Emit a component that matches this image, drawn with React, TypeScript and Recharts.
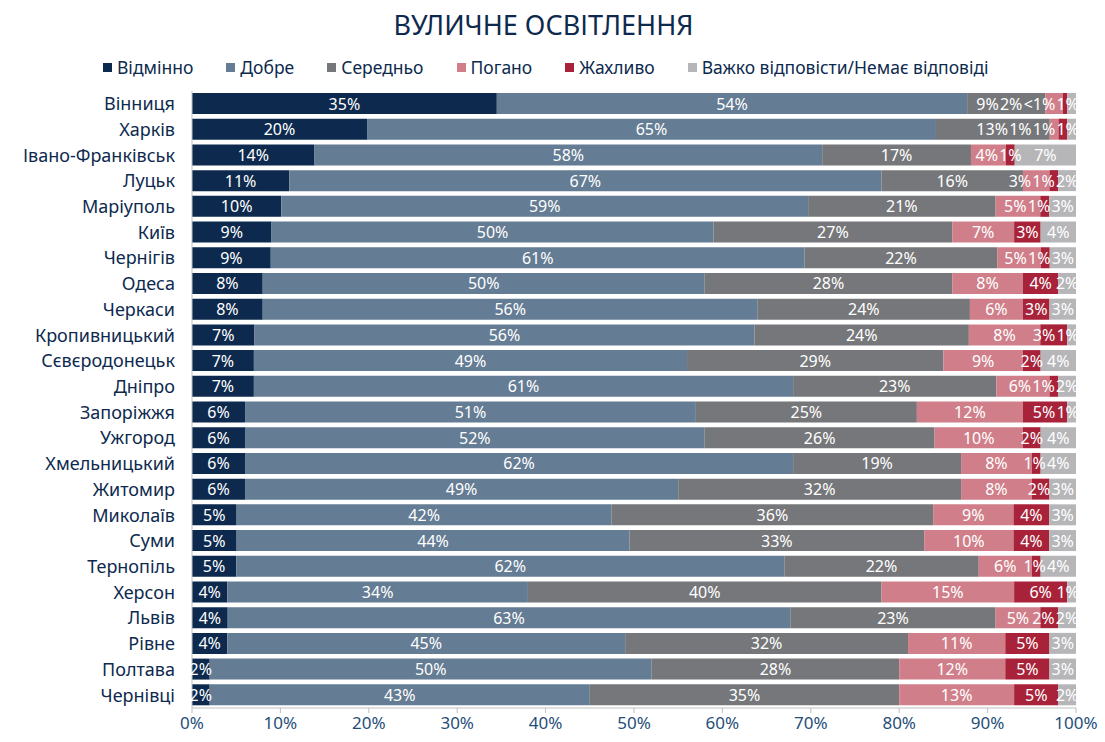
import React from 'react'
import { BarChart, Bar, XAxis, YAxis, LabelList } from 'recharts'

const cities = [
  'Вінниця', 'Харків', 'Івано-Франківськ', 'Луцьк', 'Маріуполь', 'Київ', 'Чернігів', 'Одеса',
  'Черкаси', 'Кропивницький', 'Сєвєродонецьк', 'Дніпро', 'Запоріжжя', 'Ужгород', 'Хмельницький',
  'Житомир', 'Миколаїв', 'Суми', 'Тернопіль', 'Херсон', 'Львів', 'Рівне', 'Полтава', 'Чернівці',
]

// 0.5 stands for "<1%"
const excellent = [35, 20, 14, 11, 10, 9, 9, 8, 8, 7, 7, 7, 6, 6, 6, 6, 5, 5, 5, 4, 4, 4, 2, 2]
const good = [54, 65, 58, 67, 59, 50, 61, 50, 56, 56, 49, 61, 51, 52, 62, 49, 42, 44, 62, 34, 63, 45, 50, 43]
const average = [9, 13, 17, 16, 21, 27, 22, 28, 24, 24, 29, 23, 25, 26, 19, 32, 36, 33, 22, 40, 23, 32, 28, 35]
const poor = [2, 1, 4, 3, 5, 7, 5, 8, 6, 8, 9, 6, 12, 10, 8, 8, 9, 10, 6, 15, 5, 11, 12, 13]
const terrible = [0.5, 1, 1, 1, 1, 3, 1, 4, 3, 3, 2, 1, 5, 2, 1, 2, 4, 4, 1, 6, 2, 5, 5, 5]
const hard = [1, 1, 7, 2, 3, 4, 3, 2, 3, 1, 4, 2, 1, 4, 4, 3, 3, 3, 4, 1, 2, 3, 3, 2]

const xTicks = [0, 0.1, 0.2, 0.3, 0.4, 0.5, 0.6, 0.7, 0.8, 0.9, 1]

const series = [
  { key: 'excellent', name: 'Відмінно', color: '#0d2a4e', values: excellent },
  { key: 'good', name: 'Добре', color: '#647c94', values: good },
  { key: 'average', name: 'Середньо', color: '#76777a', values: average },
  { key: 'poor', name: 'Погано', color: '#d07f8a', values: poor },
  { key: 'terrible', name: 'Жахливо', color: '#a8233a', values: terrible },
  { key: 'hard', name: 'Важко відповісти/Немає відповіді', color: '#b6b6b9', values: hard },
]

const data = cities.map((city, i) => {
  const row: Record<string, string | number> = { city }
  series.forEach((s) => {
    row[s.key] = s.values[i]
  })
  return row
})

const FONT = '"Noto Sans", sans-serif'
const NAVY = '#0d2a4e'
const LABEL_SIZE = 16

const fmtLabel = (v: number) => (v < 1 ? '<1%' : `${v}%`)

// rough text width for the in-bar labels
const textWidth = (s: string) =>
  s.split('').reduce((w, ch) => w + (ch === '%' ? 0.84 : 0.575) * LABEL_SIZE, 0)

// labels of one row, pushed left where small segments would make them collide
function makeLabel(k: number) {
  return (props: any) => {
    const vb = props.viewBox && props.viewBox.width != null ? props.viewBox : props
    const { x, y, width, height } = vb
    const index = props.index
    if (!width || index == null) return null
    const vals = series.map((s) => s.values[index])
    const total = vals.reduce((a, b) => a + b, 0)
    const fracs = vals.map((v) => v / total)
    const unit = width / fracs[k]
    let cum = 0
    const centers = fracs.map((f) => {
      const c = cum + f / 2
      cum += f
      return c
    })
    const start = x - (centers[k] - fracs[k] / 2) * unit
    const labels = vals.map(fmtLabel)
    const widths = labels.map(textWidth)
    const pos = centers.map((c) => start + c * unit)
    let limit = start + unit + 3
    for (let j = vals.length - 1; j >= 0; j--) {
      pos[j] = Math.min(pos[j], limit - widths[j] / 2)
      limit = pos[j] - widths[j] / 2 - 1
    }
    return (
      <text
        x={pos[k]}
        y={y + height / 2}
        textAnchor="middle"
        dominantBaseline="central"
        fill="#ffffff"
        fontSize={LABEL_SIZE}
        fontFamily={FONT}
      >
        {labels[k]}
      </text>
    )
  }
}

export default function App() {
  return (
    <div style={{ position: 'absolute', left: 0, top: 0, width: 1105, height: 742, background: '#fff', fontFamily: FONT }}>
      <div
        style={{
          position: 'absolute',
          top: 5,
          left: 0,
          width: 1087,
          textAlign: 'center',
          fontSize: 27,
          color: NAVY,
          lineHeight: '40px',
        }}
      >
        ВУЛИЧНЕ ОСВІТЛЕННЯ
      </div>
      <div
        style={{
          position: 'absolute',
          top: 55,
          left: 103,
          display: 'flex',
          gap: 33,
          fontSize: 17.5,
          color: NAVY,
          lineHeight: '24px',
        }}
      >
        {series.map((s) => (
          <div key={s.key} style={{ display: 'flex', alignItems: 'center' }}>
            <span style={{ display: 'inline-block', width: 9, height: 9, background: s.color, marginRight: 5 }} />
            {s.name}
          </div>
        ))}
      </div>
      <BarChart
        width={1105}
        height={742}
        data={data}
        layout="vertical"
        stackOffset="expand"
        barSize={21}
        margin={{ top: 91, right: 29, bottom: 0, left: 0 }}
      >
        <XAxis
          type="number"
          domain={[0, 1]}
          ticks={xTicks}
          tickFormatter={(v) => `${Math.round(v * 100)}%`}
          height={34}
          tickSize={5}
          tickMargin={4}
          stroke="#bfbfbf"
          tick={{ fill: '#1f4e79', fontSize: 17, fontFamily: FONT }}
        />
        <YAxis
          type="category"
          dataKey="city"
          width={192}
          tickLine={false}
          tickSize={0}
          tickMargin={17}
          stroke="#bfbfbf"
          interval={0}
          tick={{ fill: NAVY, fontSize: 18, fontFamily: FONT }}
        />
        {series.map((s, k) => (
          <Bar key={s.key} dataKey={s.key} name={s.name} stackId="a" fill={s.color} isAnimationActive={false}>
            <LabelList dataKey={s.key} content={makeLabel(k)} />
          </Bar>
        ))}
      </BarChart>
    </div>
  )
}
